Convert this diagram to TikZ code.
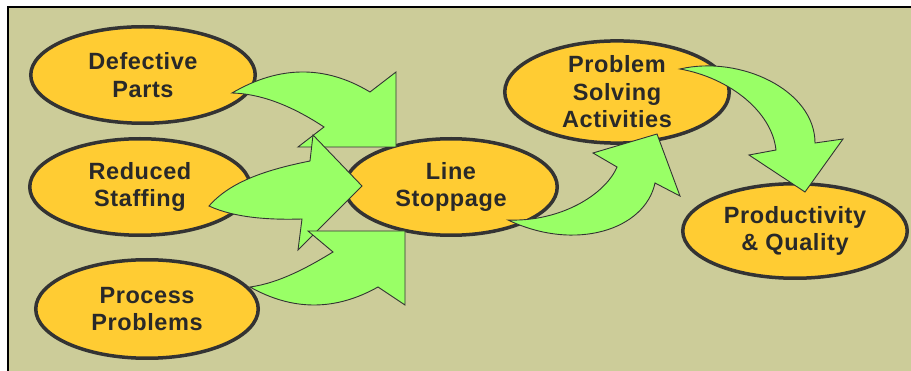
\documentclass[tikz,border=0pt]{standalone}
\usepackage{fontspec}
\setmainfont{Liberation Sans}[LetterSpace=2.5]
\usetikzlibrary{shapes.geometric}

\definecolor{panelkhaki}{HTML}{CCCC99}
\definecolor{ovalfill}{HTML}{FFCC33}
\definecolor{inkgray}{HTML}{333333}
\definecolor{flowgreen}{HTML}{99FF66}

\newcommand\ovaltextfont{\fontsize{23.5}{27.5}\selectfont\bfseries}

\begin{document}
\begin{tikzpicture}[x=1pt,y=-1pt,
  oval/.style={ellipse, draw=inkgray, line width=3.5pt, fill=ovalfill,
    inner sep=0pt, align=center, font=\ovaltextfont, text=inkgray!80!black},
  flowarrow/.style={fill=flowgreen, draw=inkgray, line width=0.9pt, line join=miter},
]
\useasboundingbox (0,0) rectangle (911,371);
\fill[white] (0,0) rectangle (911,371);
\clip (0,0) rectangle (911,371);

% panel
\fill[panelkhaki] (8,7) rectangle (930,390);
\draw[black, line width=1.6pt] (8,390) -- (8,7) -- (930,7);

% ovals
\node[oval, minimum width=224.5pt, minimum height=96.5pt] (defective) at (143,75) {Defective\\Parts};
\node[oval, minimum width=220.5pt, minimum height=96.5pt] (staffing) at (140,187) {Reduced\\Staffing};
\node[oval, minimum width=222.5pt, minimum height=98.5pt] (process) at (147,309) {Process\\Problems};
\node[oval, minimum width=212.5pt, minimum height=96.5pt] (stoppage) at (451,187) {Line\\Stoppage};
\node[oval, minimum width=224.5pt, minimum height=96.5pt] (solving) at (617,92) {Problem\\Solving\\Activities};
\node[oval, minimum width=224.5pt, minimum height=94.5pt] (quality) at (795,231) {Productivity\\\& Quality};

% curved block arrows
% defective parts -> line stoppage
\filldraw[flowarrow] (232,93) .. controls (279.3,65.3) and (325.3,65) .. (370,92)
  -- (396,72) -- (396,147) -- (298,147) -- (324,127)
  .. controls (290.7,105) and (260,93.7) .. (232,93) -- cycle;
% reduced staffing -> line stoppage
\filldraw[flowarrow] (209,206) .. controls (230,182) and (265,170) .. (310,161)
  -- (313,135) -- (362,186) -- (298,250) -- (302,219)
  .. controls (270,220) and (235,218) .. (209,206) -- cycle;
% process problems -> line stoppage
\filldraw[flowarrow] (250,287) .. controls (280,283) and (310,266) .. (333,252)
  -- (308,231) -- (405,231) -- (405,305) -- (378,287)
  .. controls (335.3,311) and (292.7,311) .. (250,287) -- cycle;
% line stoppage -> problem solving
\filldraw[flowarrow] (508,220) .. controls (560,222) and (605,195) .. (617,167)
  -- (593,153) -- (657,134) -- (680,196) -- (655,183)
  .. controls (645,230) and (575,252) .. (508,220) -- cycle;
% problem solving -> productivity & quality
\filldraw[flowarrow] (680,69) .. controls (740,55) and (815,90) .. (815,143)
  -- (843,139) -- (805,192) -- (749,155) -- (776,150)
  .. controls (772,112) and (730,78) .. (680,69) -- cycle;
\end{tikzpicture}
\end{document}
